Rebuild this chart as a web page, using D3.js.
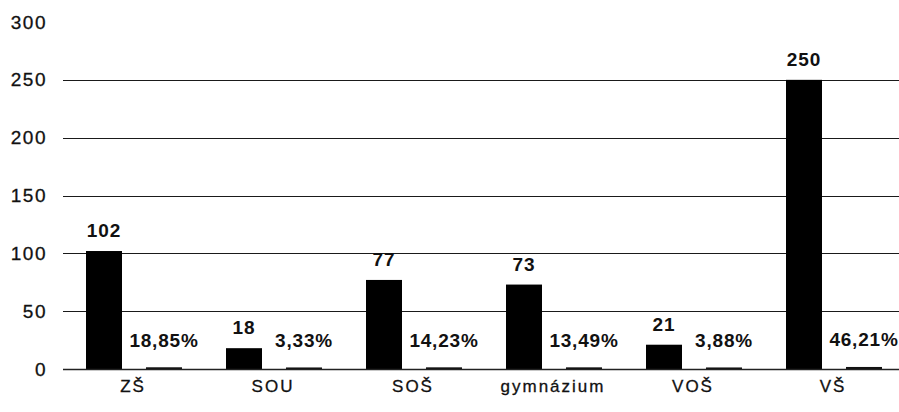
<!DOCTYPE html>
<html>
<head>
<meta charset="utf-8">
<script src="https://cdn.jsdelivr.net/npm/d3@7"></script>
<style>
  html, body { margin: 0; padding: 0; background: #fff; }
  svg { display: block; font-family: "Liberation Sans", Arial, sans-serif; }
</style>
</head>
<body>
<svg id="chart" width="899" height="412"></svg>
<script>
const categories = ["ZŠ", "SOU", "SOŠ", "gymnázium", "VOŠ", "VŠ"];
const counts = [102, 18, 77, 73, 21, 250];
const shares = [0.1885, 0.0333, 0.1423, 0.1349, 0.0388, 0.4621];
const shareLabels = ["18,85%", "3,33%", "14,23%", "13,49%", "3,88%", "46,21%"];
const yTicks = [0, 50, 100, 150, 200, 250, 300];
const seriesKeys = ["count", "share"];

const svg = d3.select("#chart");
const plotLeft = 63, plotRight = 903, plotTop = 22, plotBottom = 369;

const x0 = d3.scaleBand().domain(categories).range([plotLeft, plotRight]).padding(0);
const x1 = d3.scaleBand().domain(seriesKeys).range([23, 119]).paddingInner(0.4).paddingOuter(0);
const y = d3.scaleLinear().domain([0, 300]).range([plotBottom, plotTop]);

// gridlines
svg.append("g").selectAll("line")
  .data(yTicks.filter(t => t > 0 && t < 300))
  .join("line")
  .attr("x1", plotLeft).attr("x2", 899)
  .attr("y1", d => Math.round(y(d)) + 0.5).attr("y2", d => Math.round(y(d)) + 0.5)
  .attr("stroke", "#1a1a1a").attr("stroke-width", 1.2);

// y axis labels
const yAxis = d3.axisLeft(y).tickValues(yTicks).tickSize(0).tickPadding(0);
const ya = svg.append("g").attr("transform", "translate(47,0)").call(yAxis);
ya.select(".domain").remove();
ya.selectAll("text")
  .attr("font-size", 19).attr("fill", "#111").attr("letter-spacing", 1.5)
  .attr("stroke", "#111").attr("stroke-width", 0.3)
  .attr("font-family", "Liberation Sans, Arial, sans-serif");

const rows = categories.map((c, i) => ({ cat: c, count: counts[i], share: shares[i], label: shareLabels[i] }));

const groups = svg.append("g").selectAll("g")
  .data(rows).join("g")
  .attr("transform", d => `translate(${x0(d.cat)},0)`);

// count bars
groups.append("rect")
  .attr("x", x1("count")).attr("width", x1.bandwidth())
  .attr("y", d => y(d.count)).attr("height", d => y(0) - y(d.count))
  .attr("fill", "#000");

// share bars (values as fractions, drawn on the same axis -> very thin)
groups.append("rect")
  .attr("x", x1("share")).attr("width", x1.bandwidth())
  .attr("y", d => y(d.share) - 1.5).attr("height", d => y(0) - y(d.share) + 1.5)
  .attr("fill", "#111");

// count labels
groups.append("text")
  .attr("x", x1("count") + x1.bandwidth() / 2)
  .attr("y", d => y(d.count) - 14)
  .attr("text-anchor", "middle")
  .attr("font-size", 19).attr("font-weight", "bold").attr("letter-spacing", 1)
  .attr("fill", "#111")
  .text(d => d.count);

// share labels
groups.append("text")
  .attr("x", x1("share") + x1.bandwidth() / 2)
  .attr("y", d => y(d.share) - 22)
  .attr("text-anchor", "middle")
  .attr("font-size", 19).attr("font-weight", "bold").attr("letter-spacing", 0.8)
  .attr("fill", "#111")
  .text(d => d.label);

// baseline
svg.append("line")
  .attr("x1", plotLeft).attr("x2", 899)
  .attr("y1", y(0) + 0.5).attr("y2", y(0) + 0.5)
  .attr("stroke", "#222").attr("stroke-width", 1.5);

// category axis
const xAxis = d3.axisBottom(x0).tickSize(0).tickPadding(0);
const xa = svg.append("g").attr("transform", `translate(0,${plotBottom})`).call(xAxis);
xa.select(".domain").remove();
xa.selectAll("text")
  .attr("dy", 0).attr("y", 23)
  .attr("font-size", 17).attr("letter-spacing", 2).attr("fill", "#111")
  .attr("stroke", "#111").attr("stroke-width", 0.3)
  .attr("font-family", "Liberation Sans, Arial, sans-serif");
</script>
</body>
</html>
